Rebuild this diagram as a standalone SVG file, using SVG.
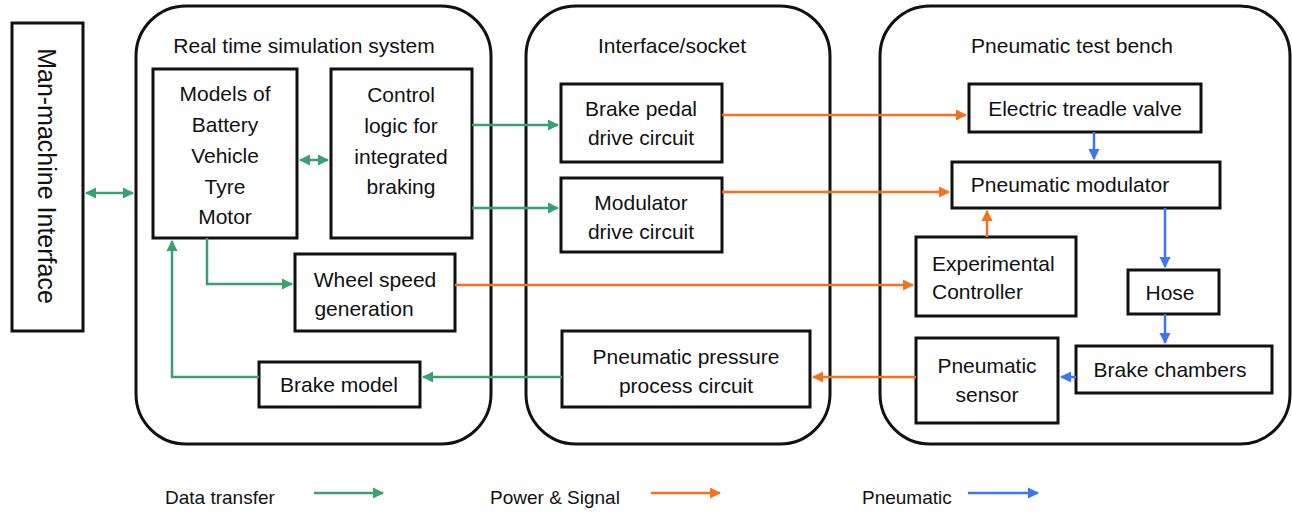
<svg xmlns="http://www.w3.org/2000/svg" width="1292" height="512" viewBox="0 0 1292 512">
<style>
text{font-family:"Liberation Sans",Arial,sans-serif;font-size:21px;fill:#111;text-anchor:middle}
.box{fill:#fff;stroke:#111;stroke-width:3}
.cont{fill:#fff;stroke:#111;stroke-width:3}
.g{stroke:#3a9f72;stroke-width:2.5;fill:none}
.o{stroke:#f2721e;stroke-width:2.5;fill:none}
.b{stroke:#3f74f5;stroke-width:2.5;fill:none}
.lg{font-size:19px;text-anchor:start}
</style>
<defs>
<marker id="ag" viewBox="0 0 10 10" refX="9" refY="5" markerWidth="4.5" markerHeight="4.5" orient="auto-start-reverse" markerUnits="strokeWidth"><path d="M0,0L10,5L0,10z" fill="#3a9f72"/></marker>
<marker id="ao" viewBox="0 0 10 10" refX="9" refY="5" markerWidth="4.5" markerHeight="4.5" orient="auto-start-reverse" markerUnits="strokeWidth"><path d="M0,0L10,5L0,10z" fill="#f2721e"/></marker>
<marker id="ab" viewBox="0 0 10 10" refX="9" refY="5" markerWidth="4.5" markerHeight="4.5" orient="auto-start-reverse" markerUnits="strokeWidth"><path d="M0,0L10,5L0,10z" fill="#3f74f5"/></marker>
</defs>
<rect width="1292" height="512" fill="#fff"/>

<g id="mmi"><rect class="box" x="12" y="23" width="71" height="308"/>
<text transform="translate(38,176) rotate(90)" style="font-size:25px">Man-machine Interface</text></g>

<g id="rts"><rect class="cont" x="136" y="6" width="355" height="438" rx="50"/>
<text x="304" y="53">Real time simulation system</text></g>
<g id="ifs"><rect class="cont" x="526" y="6" width="304" height="438" rx="50"/>
<text x="672" y="53">Interface/socket</text></g>
<g id="ptb"><rect class="cont" x="880" y="6" width="410" height="438" rx="50"/>
<text x="1072" y="53">Pneumatic test bench</text></g>

<g id="models"><rect class="box" x="153" y="69" width="144" height="169"/>
<text x="225" y="101">Models of</text><text x="225" y="132">Battery</text><text x="225" y="163">Vehicle</text><text x="225" y="194">Tyre</text><text x="225" y="224">Motor</text></g>
<g id="control"><rect class="box" x="331" y="69" width="141" height="169"/>
<text x="401" y="102">Control</text><text x="401" y="133">logic for</text><text x="401" y="164">integrated</text><text x="401" y="194">braking</text></g>
<g id="wheel"><rect class="box" x="295" y="254" width="160" height="77"/>
<text x="375" y="287">Wheel speed</text><text x="364" y="316">generation</text></g>
<g id="brakemodel"><rect class="box" x="259" y="362" width="161" height="45"/>
<text x="339" y="392">Brake model</text></g>

<g id="bpdc"><rect class="box" x="561" y="84" width="161" height="78"/>
<text x="641" y="116">Brake pedal</text><text x="641" y="145">drive circuit</text></g>
<g id="mdc"><rect class="box" x="561" y="178" width="161" height="74"/>
<text x="641" y="210">Modulator</text><text x="641" y="239">drive circuit</text></g>
<g id="pppc"><rect class="box" x="562" y="331" width="248" height="76"/>
<text x="686" y="364">Pneumatic pressure</text><text x="686" y="393">process circuit</text></g>

<g id="etv"><rect class="box" x="969" y="84" width="232" height="48"/>
<text x="1085" y="116">Electric treadle valve</text></g>
<g id="pm"><rect class="box" x="952" y="162" width="268" height="46"/>
<text x="1070" y="192">Pneumatic modulator</text></g>
<g id="ec"><rect class="box" x="916" y="237" width="160" height="79"/>
<text x="932" y="271" style="text-anchor:start">Experimental</text><text x="932" y="299" style="text-anchor:start">Controller</text></g>
<g id="hose"><rect class="box" x="1128" y="270" width="91" height="44"/>
<text x="1170" y="300">Hose</text></g>
<g id="bc"><rect class="box" x="1076" y="346" width="196" height="47"/>
<text x="1170" y="377">Brake chambers</text></g>
<g id="ps"><rect class="box" x="916" y="338" width="142" height="85"/>
<text x="987" y="373">Pneumatic</text><text x="987" y="402">sensor</text></g>

<g id="connectors">
<line class="g" x1="86" y1="193" x2="133" y2="193" marker-start="url(#ag)" marker-end="url(#ag)"/>
<line class="g" x1="300" y1="160" x2="328" y2="160" marker-start="url(#ag)" marker-end="url(#ag)"/>
<line class="g" x1="472" y1="125" x2="558" y2="125" marker-end="url(#ag)"/>
<line class="g" x1="472" y1="208" x2="558" y2="208" marker-end="url(#ag)"/>
<polyline class="g" points="207,238 207,284 292,284" marker-end="url(#ag)"/>
<polyline class="g" points="259,377 172,377 172,241" marker-end="url(#ag)"/>
<line class="g" x1="562" y1="377" x2="423" y2="377" marker-end="url(#ag)"/>
<line class="o" x1="722" y1="115" x2="966" y2="115" marker-end="url(#ao)"/>
<line class="o" x1="722" y1="192" x2="949" y2="192" marker-end="url(#ao)"/>
<line class="o" x1="455" y1="285" x2="913" y2="285" marker-end="url(#ao)"/>
<line class="o" x1="987" y1="237" x2="987" y2="211" marker-end="url(#ao)"/>
<line class="o" x1="916" y1="377" x2="813" y2="377" marker-end="url(#ao)"/>
<line class="b" x1="1094" y1="132" x2="1094" y2="159" marker-end="url(#ab)"/>
<line class="b" x1="1165" y1="208" x2="1165" y2="267" marker-end="url(#ab)"/>
<line class="b" x1="1165" y1="314" x2="1165" y2="343" marker-end="url(#ab)"/>
<line class="b" x1="1076" y1="377" x2="1061" y2="377" marker-end="url(#ab)"/>
</g>

<g id="legend">
<text class="lg" x="165" y="504">Data transfer</text>
<line class="g" x1="314" y1="493" x2="383" y2="493" marker-end="url(#ag)"/>
<text class="lg" x="490" y="504">Power &amp; Signal</text>
<line class="o" x1="651" y1="493" x2="720" y2="493" marker-end="url(#ao)"/>
<text class="lg" x="862" y="504">Pneumatic</text>
<line class="b" x1="968" y1="493" x2="1038" y2="493" marker-end="url(#ab)"/>
</g>
</svg>
